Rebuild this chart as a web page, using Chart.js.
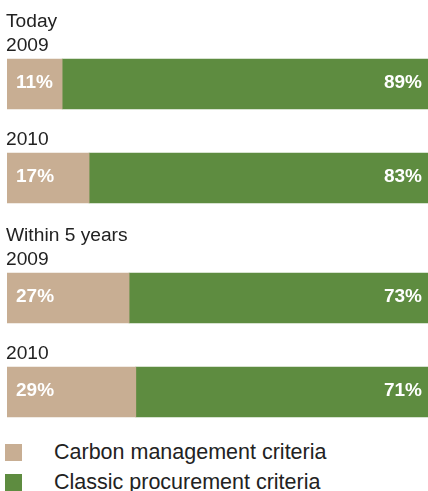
<!DOCTYPE html>
<html>
<head>
<meta charset="utf-8">
<script src="https://cdn.jsdelivr.net/npm/chart.js@4"></script>
<style>
  html, body { margin: 0; padding: 0; background: #fff; }
  body { width: 428px; height: 491px; position: relative; overflow: hidden; font-family: "Liberation Sans", Arial, sans-serif; }
  #wrap { position: absolute; left: 0; top: 0; width: 428px; height: 430px; }
  .legend { position: absolute; left: 5px; top: 444px; color: #222; font-size: 21.5px; }
  .legend div { display: flex; align-items: center; height: 17px; margin-bottom: 13px; }
  .legend span.box { width: 17px; height: 17px; margin-right: 32px; flex: none; }
</style>
</head>
<body>
<div id="wrap"><canvas id="chart"></canvas></div>
<div class="legend" id="legend"></div>
<script>
const groups = ["Today", "", "Within 5 years", ""];
const years = ["2009", "2010", "2009", "2010"];
// printed percentages
const carbonLabels = [11, 17, 27, 29];
const classicLabels = [89, 83, 73, 71];
// segment lengths as drawn in the picture (share of the full bar)
const carbonBars = [13.1, 19.5, 29.0, 30.6];
const classicBars = [86.9, 80.5, 71.0, 69.4];
const seriesNames = ["Carbon management criteria", "Classic procurement criteria"];

const TAN = "#c8ae93";
const GREEN = "#5e8c40";

// row layout: header lines above each bar, bar, then a gap
const lineH = 26;
const barH = 50;
const gapH = 18;
const centers = [];
let cursor = 7;
years.forEach((y, i) => {
  const lines = groups[i] ? 2 : 1;
  const top = cursor + lines * lineH;
  centers.push(top + barH / 2);
  cursor = top + barH + gapH;
});

const rowLabels = {
  id: "rowLabels",
  afterDatasetsDraw(chart) {
    const { ctx, scales } = chart;
    ctx.save();
    ctx.fillStyle = "#222";
    ctx.font = "19.2px 'Liberation Sans', Arial, sans-serif";
    ctx.textAlign = "left";
    ctx.textBaseline = "alphabetic";
    years.forEach((yr, i) => {
      const barTop = scales.y.getPixelForValue(centers[i]) - barH / 2;
      const base = barTop - 8;
      ctx.fillText(yr, 6, base);
      if (groups[i]) ctx.fillText(groups[i], 6, base - 24);
    });

    ctx.fillStyle = "#fff";
    ctx.font = "bold 19px 'Liberation Sans', Arial, sans-serif";
    ctx.textBaseline = "middle";
    chart.getDatasetMeta(0).data.forEach((bar, i) => {
      ctx.textAlign = "left";
      ctx.fillText(carbonLabels[i] + "%", bar.base + 9, bar.y - 1);
    });
    chart.getDatasetMeta(1).data.forEach((bar, i) => {
      ctx.textAlign = "right";
      ctx.fillText(classicLabels[i] + "%", bar.x - 6, bar.y - 1);
    });
    ctx.restore();
  },
};

new Chart(document.getElementById("chart"), {
  type: "bar",
  data: {
    datasets: [
      {
        label: seriesNames[0],
        data: carbonBars.map((v, i) => ({ x: v, y: centers[i] })),
        backgroundColor: TAN,
        barThickness: barH,
      },
      {
        label: seriesNames[1],
        data: classicBars.map((v, i) => ({ x: v, y: centers[i] })),
        backgroundColor: GREEN,
        barThickness: barH,
      },
    ],
  },
  options: {
    indexAxis: "y",
    responsive: true,
    maintainAspectRatio: false,
    animation: false,
    layout: { padding: { left: 7, right: 0, top: 0, bottom: 0 } },
    scales: {
      x: { stacked: true, min: 0, max: 100, display: false },
      y: { type: "linear", stacked: true, offset: false, min: 0, max: 430, reverse: true, display: false },
    },
    plugins: {
      legend: { display: false },
      tooltip: { enabled: false },
    },
  },
  plugins: [rowLabels],
});

const legend = document.getElementById("legend");
[TAN, GREEN].forEach((c, i) => {
  const row = document.createElement("div");
  const box = document.createElement("span");
  box.className = "box";
  box.style.background = c;
  row.appendChild(box);
  row.appendChild(document.createTextNode(seriesNames[i]));
  legend.appendChild(row);
});
</script>
</body>
</html>
